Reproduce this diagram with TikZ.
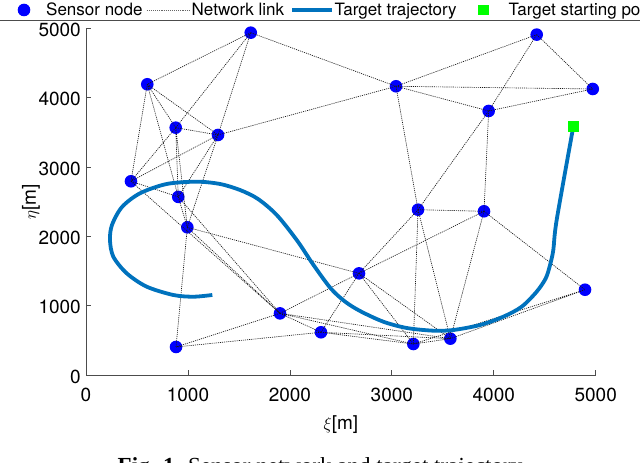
\documentclass[tikz,border=0pt]{standalone}
\usepackage{fontspec}
\setmainfont{TeX Gyre Heros}
\newfontfamily\capfont{Liberation Serif}
\usepackage{xcolor}
\definecolor{trajblue}{rgb}{0,0.447,0.741}
\newcommand{\plotfont}{\fontsize{19}{22}\selectfont}
\newcommand{\legfont}{\fontsize{17}{20}\selectfont}

\begin{document}
\begin{tikzpicture}[x=1pt, y=1pt,
    sensor/.style={circle, fill=blue, inner sep=0pt, minimum size=12.6pt},
    startmark/.style={rectangle, fill=green, inner sep=0pt, minimum size=10.7pt},
    link/.style={black!90, line width=0.65pt, dash pattern=on 1.1pt off 1pt},
    traj/.style={trajblue, line width=3.8pt},
    axisline/.style={black!70, line width=0.7pt},
    ticklabel/.style={font=\plotfont, inner sep=0pt},
    legtext/.style={font=\legfont, inner sep=0pt, anchor=base west}]
    \useasboundingbox (0,0) rectangle (640,463);
    % legend
    \draw[axisline] (-10,442.3) rectangle (700,480);
    \node[sensor] (lsensor) at (24,453) {};
    \node[legtext] (tsensor) at (46,447.3) {Sensor node};
    \coordinate (llinka) at (146.7,453);
    \coordinate (llinkb) at (189,453);
    \draw[link, black!60] (llinka) -- (llinkb);
    \node[legtext] (tlink) at (191.5,447.3) {Network link};
    \coordinate (ltraja) at (292,453);
    \coordinate (ltrajb) at (332,453);
    \draw[traj] (ltraja) -- (ltrajb);
    \node[legtext] (ttraj) at (334.5,447.3) {Target trajectory};
    \node[startmark] (lstart) at (483.5,453) {};
    \node[legtext] (tstart) at (508.5,447.3) {Target starting position};
    % caption, cut by the page
    \node[font=\capfont\fontsize{23}{26}\selectfont, anchor=base, inner sep=0pt] (caption) at (320,-11)
        {\textbf{Fig. 1.} Sensor network and target trajectory};
    \begin{scope}[shift={(86,88)}, x=0.10194pt, y=0.06933pt]
    % axes
    \draw[axisline] (0,5000) -- (0,0) -- (5000,0);
    \draw[axisline] (0,1000) -- ++(5pt,0) (0,2000) -- ++(5pt,0) (0,3000) -- ++(5pt,0)
        (0,4000) -- ++(5pt,0) (0,5000) -- ++(5pt,0)
        (1000,0) -- ++(0,5pt) (2000,0) -- ++(0,5pt) (3000,0) -- ++(0,5pt)
        (4000,0) -- ++(0,5pt) (5000,0) -- ++(0,5pt);
    \node[ticklabel, anchor=east] (y0) at (-49,-25) {0};
    \node[ticklabel, anchor=east] (y1000) at (-49,975) {1000};
    \node[ticklabel, anchor=east] (y2000) at (-49,1975) {2000};
    \node[ticklabel, anchor=east] (y3000) at (-49,2975) {3000};
    \node[ticklabel, anchor=east] (y4000) at (-49,3975) {4000};
    \node[ticklabel, anchor=east] (y5000) at (-49,4975) {5000};
    \node[ticklabel, anchor=north] (x0) at (0,-190) {0};
    \node[ticklabel, anchor=north] (x1000) at (1000,-190) {1000};
    \node[ticklabel, anchor=north] (x2000) at (2000,-190) {2000};
    \node[ticklabel, anchor=north] (x3000) at (3000,-190) {3000};
    \node[ticklabel, anchor=north] (x4000) at (4000,-190) {4000};
    \node[ticklabel, anchor=north] (x5000) at (5000,-190) {5000};
    \node[ticklabel] (xlabel) at (2500,-720) {$\xi$[m]};
    \node[ticklabel, rotate=90] (ylabel) at (-540,2500) {$\eta$[m]};
    % sensors
    \node[sensor] (s1) at (1616,4937) {};
    \node[sensor] (s2) at (601,4193) {};
    \node[sensor] (s3) at (880,3567) {};
    \node[sensor] (s4) at (1295,3462) {};
    \node[sensor] (s5) at (441,2794) {};
    \node[sensor] (s6) at (905,2569) {};
    \node[sensor] (s7) at (994,2130) {};
    \node[sensor] (s8) at (1903,889) {};
    \node[sensor] (s9) at (883,404) {};
    \node[sensor] (s10) at (2305,616) {};
    \node[sensor] (s11) at (2678,1466) {};
    \node[sensor] (s12) at (3257,2384) {};
    \node[sensor] (s13) at (3041,4164) {};
    \node[sensor] (s14) at (3950,3808) {};
    \node[sensor] (s15) at (3904,2361) {};
    \node[sensor] (s16) at (4421,4909) {};
    \node[sensor] (s17) at (4971,4125) {};
    \node[sensor] (s18) at (4895,1230) {};
    \node[sensor] (s19) at (3211,447) {};
    \node[sensor] (s20) at (3574,524) {};
    % links
    \draw[link] (s1.center) -- (s2.center) (s1.center) -- (s3.center) (s1.center) -- (s4.center) (s1.center) -- (s13.center);
    \draw[link] (s2.center) -- (s3.center) (s2.center) -- (s4.center) (s2.center) -- (s5.center) (s2.center) -- (s6.center);
    \draw[link] (s3.center) -- (s4.center) (s3.center) -- (s5.center) (s3.center) -- (s6.center) (s3.center) -- (s7.center);
    \draw[link] (s4.center) -- (s5.center) (s4.center) -- (s6.center) (s4.center) -- (s7.center) (s4.center) -- (s13.center);
    \draw[link] (s5.center) -- (s6.center) (s5.center) -- (s8.center);
    \draw[link] (s6.center) -- (s7.center) (s6.center) -- (s8.center);
    \draw[link] (s7.center) -- (s8.center) (s7.center) -- (s9.center) (s7.center) -- (s11.center);
    \draw[link] (s8.center) -- (s9.center) (s8.center) -- (s10.center) (s8.center) -- (s11.center) (s8.center) -- (s19.center) (s8.center) -- (s20.center);
    \draw[link] (s9.center) -- (s10.center);
    \draw[link] (s10.center) -- (s11.center) (s10.center) -- (s19.center) (s10.center) -- (s20.center);
    \draw[link] (s11.center) -- (s12.center) (s11.center) -- (s15.center) (s11.center) -- (s19.center) (s11.center) -- (s20.center);
    \draw[link] (s12.center) -- (s13.center) (s12.center) -- (s14.center) (s12.center) -- (s15.center) (s12.center) -- (s19.center) (s12.center) -- (s20.center);
    \draw[link] (s13.center) -- (s14.center) (s13.center) -- (s16.center) (s13.center) -- (s17.center);
    \draw[link] (s14.center) -- (s15.center) (s14.center) -- (s16.center) (s14.center) -- (s17.center);
    \draw[link] (s15.center) -- (s18.center) (s15.center) -- (s20.center);
    \draw[link] (s16.center) -- (s17.center);
    \draw[link] (s18.center) -- (s19.center) (s18.center) -- (s20.center) (s19.center) -- (s20.center);
    % target
    \draw[traj] plot[smooth] coordinates {(4780,3581) (4617,2236) (4584,1803) (4552,1587) (4510,1395)
        (4421,1202) (4274,985) (4094,841) (3865,721) (3603,649) (3407,639) (3146,678) (2916,769)
        (2688,923) (2540,1060) (2400,1250) (2230,1590) (2067,1947) (1871,2308) (1687,2539)
        (1511,2668) (1314,2755) (1086,2788) (792,2755) (530,2621) (353,2423) (255,2164) (235,1947)
        (268,1706) (399,1467) (595,1274) (856,1154) (1053,1129) (1239,1154)};
    \node[startmark] (start) at (4780,3581) {};
    \end{scope}
\end{tikzpicture}
\end{document}
